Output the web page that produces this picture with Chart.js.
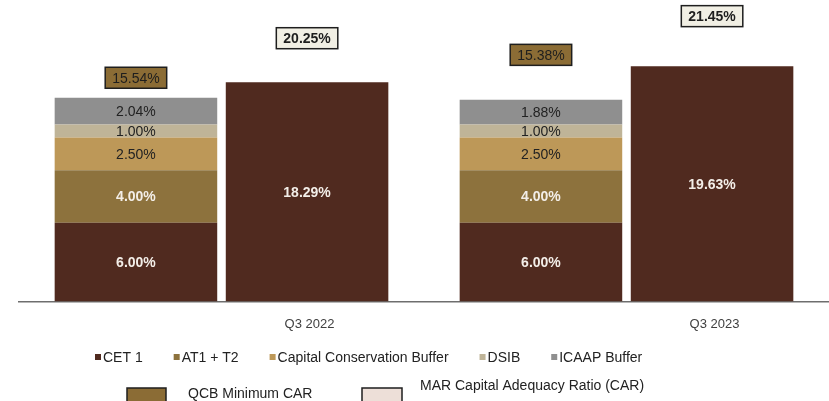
<!DOCTYPE html>
<html>
<head>
<meta charset="utf-8">
<script src="https://cdn.jsdelivr.net/npm/chart.js@4.4.1/dist/chart.umd.min.js"></script>
<style>
    html, body { margin: 0; padding: 0; background: #fff; }
    #wrap { width: 829px; height: 401px; position: relative; }
</style>
</head>
<body>
<div id="wrap"><canvas id="capChart" width="829" height="401"></canvas></div>
<script>
// ---- data ----
const quarters   = ['Q3 2022', 'Q3 2023'];
const cet1       = [6.00, 6.00];
const at1t2      = [4.00, 4.00];
const ccBuffer   = [2.50, 2.50];
const dsib       = [1.00, 1.00];
const icaap      = [2.04, 1.88];
const qcbMinCar  = [15.54, 15.38];   // boxed label above the stacked bar
const carBar     = [18.29, 19.63];   // right-hand bar
const marCar     = [20.25, 21.45];   // boxed label above the right-hand bar

const seriesNames = ['CET 1', 'AT1 + T2', 'Capital Conservation Buffer', 'DSIB', 'ICAAP Buffer'];

// ---- colours ----
const C = {
    cet1: '#502a1f',
    at1: '#8d723d',
    ccb: '#bd9858',
    dsib: '#bfb498',
    icaap: '#8f8f8f',
    qcbBox: '#8b6c35',
    marBox: '#f1efe4',
    marLegend: '#eddfd8'
};
const FONT = '"Liberation Sans", Arial, sans-serif';

// label boxes are lifted a little above each bar top (as placed in the source deck)
const boxLift = { req: [20, 45], car: [44, 50] };

const textPlugin = {
    id: 'textPlugin',
    afterDatasetsDraw(chart) {
        const ctx = chart.ctx;
        ctx.save();
        ctx.textAlign = 'center';
        ctx.textBaseline = 'middle';

        // values inside the bars
        const light = [true, true, false, false, false, true];
        chart.data.datasets.forEach((ds, di) => {
            const meta = chart.getDatasetMeta(di);
            meta.data.forEach((bar, i) => {
                ctx.font = (light[di] ? 'bold ' : '') + '14px ' + FONT;
                ctx.fillStyle = light[di] ? '#f3eee8' : '#222';
                ctx.fillText(ds.data[i].toFixed(2) + '%', bar.x, (bar.y + bar.base) / 2 + 1);
            });
        });

        // boxed totals
        const drawBox = (txt, cx, cy, fill, bold) => {
            ctx.font = (bold ? 'bold ' : '') + '14px ' + FONT;
            const w = ctx.measureText(txt).width + 14, h = 21;
            ctx.fillStyle = fill;
            ctx.fillRect(cx - w / 2, cy - h / 2, w, h);
            ctx.lineWidth = 1.5;
            ctx.strokeStyle = '#1e1e1e';
            ctx.strokeRect(cx - w / 2, cy - h / 2, w, h);
            ctx.fillStyle = '#1e1e1e';
            ctx.fillText(txt, cx, cy + 1);
        };
        const topReq = chart.getDatasetMeta(4).data;
        const topCar = chart.getDatasetMeta(5).data;
        quarters.forEach((q, i) => {
            drawBox(qcbMinCar[i].toFixed(2) + '%', topReq[i].x, topReq[i].y - boxLift.req[i], C.qcbBox, false);
            drawBox(marCar[i].toFixed(2) + '%', topCar[i].x, topCar[i].y - boxLift.car[i], C.marBox, true);
        });

        // legend row 1
        ctx.textAlign = 'left';
        ctx.font = '14px ' + FONT;
        const cols = [C.cet1, C.at1, C.ccb, C.dsib, C.icaap];
        let x = 95;
        const y = 357;
        seriesNames.forEach((name, i) => {
            ctx.fillStyle = cols[i];
            ctx.fillRect(x, y - 3, 6, 6);
            ctx.fillStyle = '#222';
            ctx.fillText(name, x + 8, y + 1);
            x += 8 + ctx.measureText(name).width + 31;
        });

        // legend row 2
        ctx.font = '14px ' + FONT;
        ctx.lineWidth = 1.5;
        ctx.strokeStyle = '#1e1e1e';
        ctx.fillStyle = C.qcbBox;
        ctx.fillRect(127, 388, 39, 16);
        ctx.strokeRect(127, 388, 39, 16);
        ctx.fillStyle = '#222';
        ctx.fillText('QCB Minimum CAR', 188, 394);
        ctx.fillStyle = C.marLegend;
        ctx.fillRect(362, 388, 40, 16);
        ctx.strokeRect(362, 388, 40, 16);
        ctx.fillStyle = '#222';
        ctx.fillText('MAR Capital Adequacy Ratio (CAR)', 420, 386);

        ctx.restore();
    }
};

const barOpts = { categoryPercentage: 0.845, barPercentage: 0.95, borderWidth: 0 };

new Chart(document.getElementById('capChart'), {
    type: 'bar',
    data: {
        labels: quarters,
        datasets: [
            { label: seriesNames[0], data: cet1,     backgroundColor: C.cet1,  stack: 'req', yAxisID: 'y', ...barOpts },
            { label: seriesNames[1], data: at1t2,    backgroundColor: C.at1,   stack: 'req', yAxisID: 'y', ...barOpts },
            { label: seriesNames[2], data: ccBuffer, backgroundColor: C.ccb,   stack: 'req', yAxisID: 'y', ...barOpts },
            { label: seriesNames[3], data: dsib,     backgroundColor: C.dsib,  stack: 'req', yAxisID: 'y', ...barOpts },
            { label: seriesNames[4], data: icaap,    backgroundColor: C.icaap, stack: 'req', yAxisID: 'y', ...barOpts },
            { label: 'CAR',          data: carBar,   backgroundColor: C.cet1,  stack: 'car', yAxisID: 'y2', ...barOpts }
        ]
    },
    options: {
        responsive: false,
        animation: false,
        devicePixelRatio: 1,
        layout: { padding: { left: 19, right: 0, top: 0, bottom: 54 } },
        scales: {
            x: {
                grid: { display: false, drawTicks: false },
                border: { display: true, color: '#6e6e6e', width: 1.5 },
                ticks: { font: { family: FONT, size: 13 }, color: '#404040', padding: 15, labelOffset: 88 }
            },
            y:  { display: false, stacked: true, min: 0, max: 23 },
            y2: { display: false, stacked: true, min: 0, max: 25.15 }
        },
        plugins: { legend: { display: false }, tooltip: { enabled: false } }
    },
    plugins: [textPlugin]
});
</script>
</body>
</html>
